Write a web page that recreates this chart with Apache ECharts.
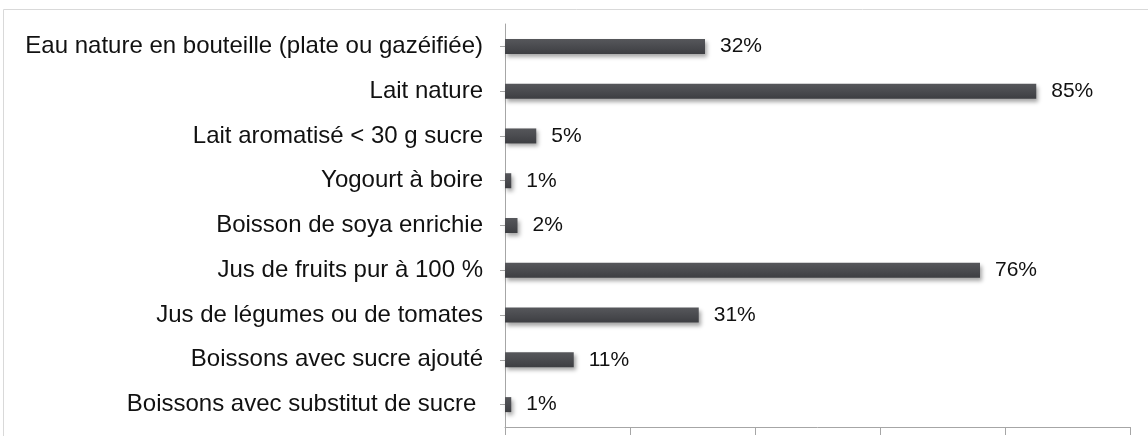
<!DOCTYPE html>
<html>
<head>
<meta charset="utf-8">
<script src="https://cdn.jsdelivr.net/npm/echarts@6/dist/echarts.min.js"></script>
<style>
  html, body { margin: 0; padding: 0; background: #fff; }
  #chart { width: 1148px; height: 436px; }
</style>
</head>
<body>
<div id="chart"></div>
<script>
var categories = [
    'Eau nature en bouteille (plate ou gazéifiée)',
    'Lait nature',
    'Lait aromatisé < 30 g sucre',
    'Yogourt à boire',
    'Boisson de soya enrichie',
    'Jus de fruits pur à 100 %',
    'Jus de légumes ou de tomates',
    'Boissons avec sucre ajouté',
    'Boissons avec substitut de sucre '
];
var values = [32, 85, 5, 1, 2, 76, 31, 11, 1];

var myChart = echarts.init(document.getElementById('chart'));
var option = {
    animation: false,
    // cadre gris autour du graphique
    graphic: [{
        type: 'rect',
        shape: { x: 3.5, y: 9.5, width: 1200, height: 500 },
        style: { fill: 'none', stroke: '#d9d9d9', lineWidth: 1 },
        silent: true
    }],
    grid: { left: 505, right: 18, top: 24, bottom: 9 },
    xAxis: {
        type: 'value',
        min: 0,
        max: 100,
        interval: 20,
        axisLine: { show: true, lineStyle: { color: '#a6a6a6', width: 1 } },
        axisTick: { show: true, length: 8, lineStyle: { color: '#a6a6a6' } },
        axisLabel: { show: false },
        splitLine: { show: false }
    },
    yAxis: {
        type: 'category',
        inverse: true,
        data: categories,
        axisLine: { show: true, lineStyle: { color: '#a6a6a6', width: 1 } },
        axisTick: { show: true, alignWithLabel: true, length: 5, lineStyle: { color: '#a6a6a6' } },
        axisLabel: {
            margin: 22,
            color: '#111',
            fontFamily: 'Liberation Sans, Arial',
            fontSize: 24
        }
    },
    series: [{
        type: 'bar',
        data: values,
        barWidth: 15,
        itemStyle: {
            color: {
                type: 'linear', x: 0, y: 0, x2: 0, y2: 1,
                colorStops: [
                    { offset: 0, color: '#56575b' },
                    { offset: 0.5, color: '#4a4b4f' },
                    { offset: 1, color: '#3d3e42' }
                ]
            },
            shadowColor: 'rgba(0,0,0,0.35)',
            shadowBlur: 4,
            shadowOffsetX: 2,
            shadowOffsetY: 3
        },
        label: {
            show: true,
            position: 'right',
            distance: 15,
            formatter: '{c}%',
            color: '#111',
            fontFamily: 'Liberation Sans, Arial',
            fontSize: 21
        }
    }]
};
myChart.setOption(option);
window.addEventListener('resize', function() {
    myChart.resize();
});
</script>
</body>
</html>
